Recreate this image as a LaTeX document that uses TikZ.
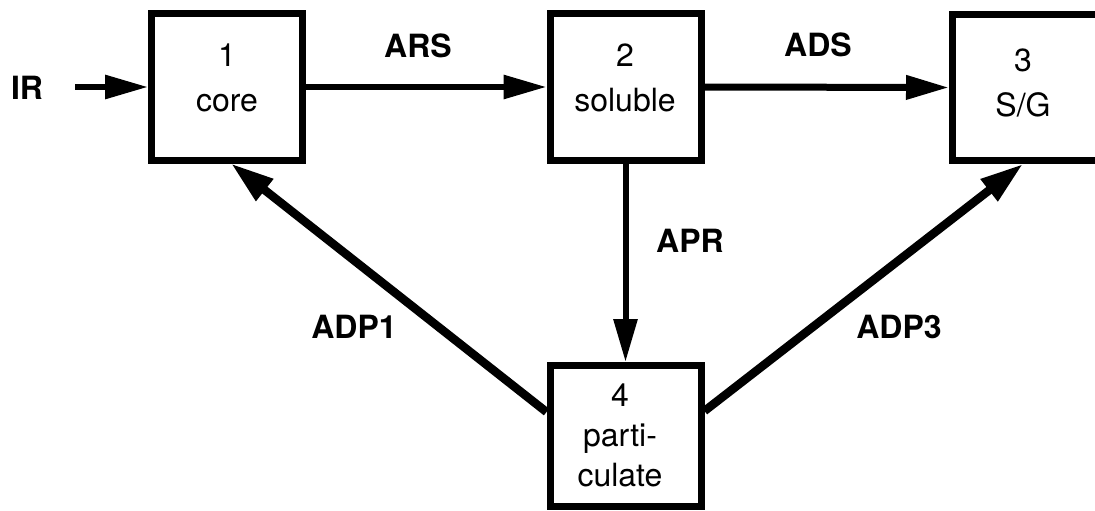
\documentclass[tikz,border=0pt]{standalone}
\usepackage{fontspec}
\setmainfont{TeX Gyre Heros}
\usetikzlibrary{arrows.meta,calc}
\begin{document}
\begin{tikzpicture}[x=1pt,y=-1pt,
  box/.style={draw, line width=7pt, minimum width=151pt, minimum height=146pt, inner sep=0pt},
  boxtext/.style={font=\fontsize{32}{45}\selectfont, align=center, inner sep=0pt},
  lbl/.style={font=\fontsize{32}{38}\selectfont\bfseries, inner sep=0pt},
  flow/.style={line width=6pt, -{Triangle[length=43pt,width=23pt]}},
  heavy/.style={line width=8.5pt, -{Triangle[length=43pt,width=26pt]}}]
\useasboundingbox (0,0) rectangle (1095,511);
\clip (0,0) rectangle (1095,511);
% boxes
\node[box] (b1) at (227,87) {};
\node[box] (b2) at (625.5,87) {};
\node[box] (b3) at (1028,87.5) {};
\node[box, minimum height=141pt] (b4) at (625.5,436) {};
% box texts
\node[boxtext] (t1) at (227,77.5) {1\\core};
\node[boxtext] (t2) at (625,77.5) {2\\soluble};
\node[boxtext] (t3) at (1023,82.5) {3\\S/G};
\node[boxtext, font=\fontsize{32}{40}\selectfont] (t4) at (620,435) {4\\parti-\\culate};
% input
\node[lbl] (ir) at (27,88) {IR};
\coordinate (irs) at (75,87);
\draw[flow] (irs) -- (b1.west);
% connectors
\draw[flow] (b1.east) -- (b2.west);
\draw[flow, line width=7pt] (b2.east) -- (b3.west);
\draw[flow] (b2.south) -- (b4.north);
\draw[heavy] ($(b4.west)+(0,-24)$) -- ($(b1.south)+(4,0)$);
\draw[heavy] ($(b4.east)+(0,-25)$) -- ($(b3.south)+(-5,0)$);
% labels
\node[lbl] (ars) at (418,46) {ARS};
\node[lbl] (ads) at (818,45) {ADS};
\node[lbl] (apr) at (690,241) {APR};
\node[lbl] (adp1) at (354,327) {ADP1};
\node[lbl] (adp3) at (899,327) {ADP3};
\end{tikzpicture}
\end{document}
